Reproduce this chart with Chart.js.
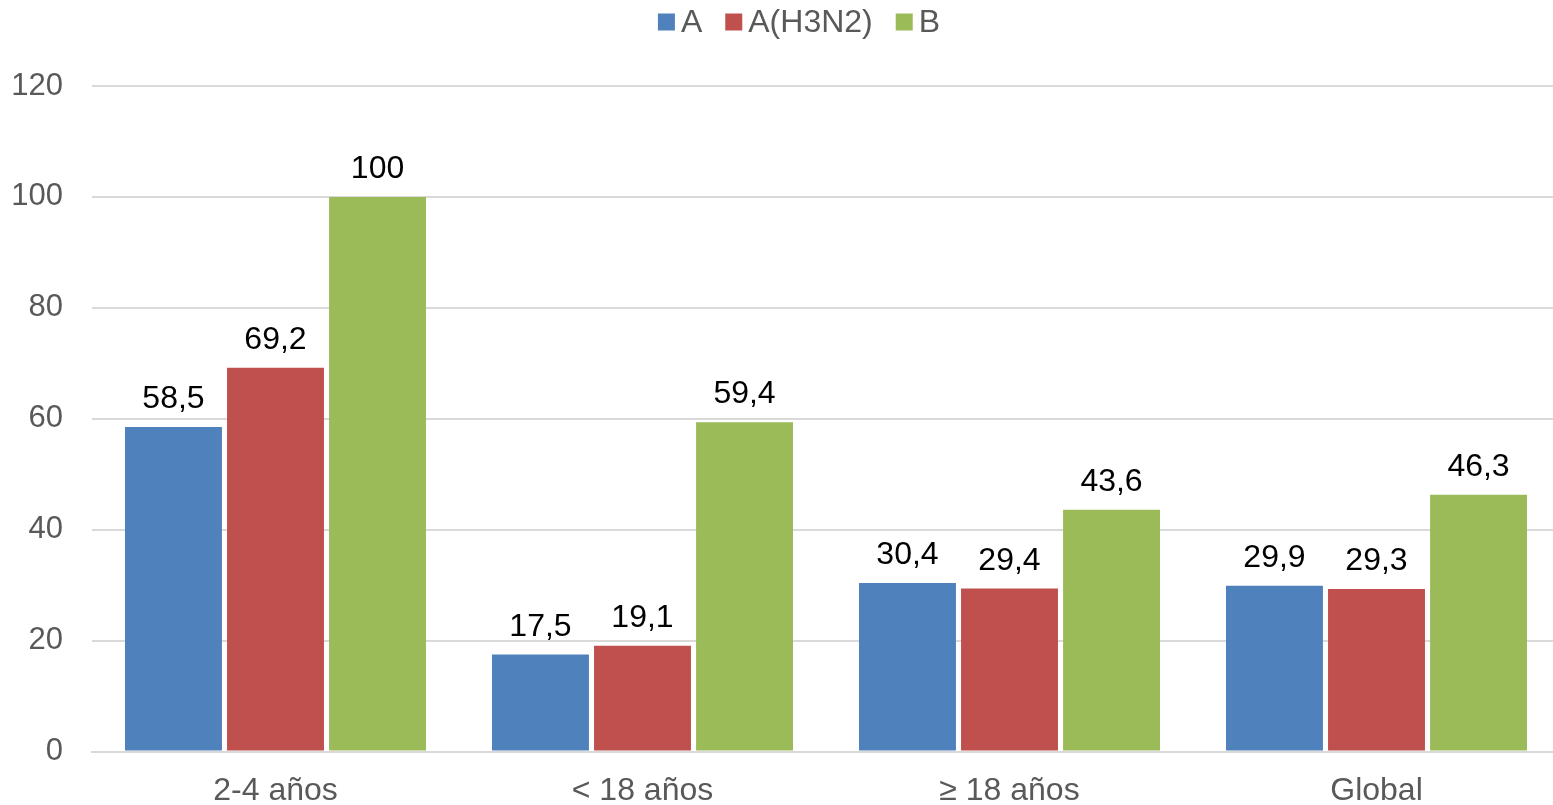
<!DOCTYPE html>
<html><head><meta charset="utf-8">
<script src="https://cdn.jsdelivr.net/npm/chart.js@4"></script>
<style>html,body{margin:0;padding:0;background:#fff}#w{width:1553px;height:805px}</style>
</head><body><div id="w"><canvas id="c"></canvas></div>
<script>
const categories = ["2-4 años", "< 18 años", "≥ 18 años", "Global"];
const seriesNames = ["A", "A(H3N2)", "B"];
const valuesA = [58.5, 17.5, 30.4, 29.9];
const valuesH3N2 = [69.2, 19.1, 29.4, 29.3];
const valuesB = [100, 59.4, 43.6, 46.3];
const yTicks = [0, 20, 40, 60, 80, 100, 120];
const colors = ["#4f81bd", "#c0504d", "#9bbb59"];
const FONT = "'Liberation Sans', Arial, sans-serif";

const labelPlugin = {
  id: 'barLabels',
  afterDatasetsDraw(chart) {
    const ctx = chart.ctx;
    ctx.save();
    ctx.font = "32px " + FONT;
    ctx.fillStyle = "#000";
    ctx.textAlign = "center";
    ctx.textBaseline = "alphabetic";
    chart.data.datasets.forEach((ds, i) => {
      chart.getDatasetMeta(i).data.forEach((bar, j) => {
        const t = String(ds.data[j]).replace('.', ',');
        ctx.fillText(t, bar.x, bar.y - 19);
      });
    });
    ctx.restore();
  }
};

const legendPlugin = {
  id: 'customLegend',
  afterDraw(chart) {
    const ctx = chart.ctx;
    ctx.save();
    ctx.font = "32px " + FONT;
    const box = 17, gapText = 6, gapItem = 23;
    const items = chart.data.datasets.map(ds => ({ text: ds.label, color: ds.backgroundColor, w: ctx.measureText(ds.label).width }));
    let total = 0;
    items.forEach((it, i) => { total += box + gapText + it.w + (i < items.length - 1 ? gapItem : 0); });
    let x = 799 - total / 2;
    const cy = 22;
    ctx.textBaseline = "middle";
    ctx.textAlign = "left";
    items.forEach(it => {
      ctx.fillStyle = it.color;
      ctx.fillRect(x, cy - box / 2, box, box);
      x += box + gapText;
      ctx.fillStyle = "#595959";
      ctx.fillText(it.text, x, cy + 1);
      x += it.w + gapItem;
    });
    ctx.restore();
  }
};

// the plot area of the original extends slightly past the right edge of the picture
const widenPlot = {
  id: 'widenPlot',
  afterLayout(chart) {
    const x = chart.scales.x;
    x.right = 1560;
    x.width = x.right - x.left;
    x.configure();
  }
};

new Chart(document.getElementById('c'), {
  type: 'bar',
  data: {
    labels: categories,
    datasets: [
      { label: seriesNames[0], data: valuesA, backgroundColor: colors[0] },
      { label: seriesNames[1], data: valuesH3N2, backgroundColor: colors[1] },
      { label: seriesNames[2], data: valuesB, backgroundColor: colors[2] }
    ]
  },
  options: {
    responsive: true, maintainAspectRatio: false, animation: false,
    devicePixelRatio: 1,
    layout: { padding: { top: 86, right: 0, left: 12, bottom: -25 } },
    datasets: { bar: { categoryPercentage: 0.834, barPercentage: 0.95 } },
    plugins: {
      legend: { display: false },
      tooltip: { enabled: false }
    },
    scales: {
      x: {
        grid: { display: false, drawTicks: false },
        border: { color: '#d9d9d9', width: 2 },
        ticks: { font: { family: FONT, size: 32 }, color: '#595959', padding: 20 }
      },
      y: {
        min: 0, max: 120,
        afterBuildTicks(axis) { axis.ticks = yTicks.map(v => ({ value: v })); },
        afterFit(axis) { axis.width = 80; },
        grid: { color: '#d9d9d9', lineWidth: 2, drawTicks: false },
        border: { display: false },
        ticks: { font: { family: FONT, size: 31 }, color: '#595959', padding: 29 }
      }
    }
  },
  plugins: [labelPlugin, legendPlugin, widenPlot]
});
</script>
</body></html>
